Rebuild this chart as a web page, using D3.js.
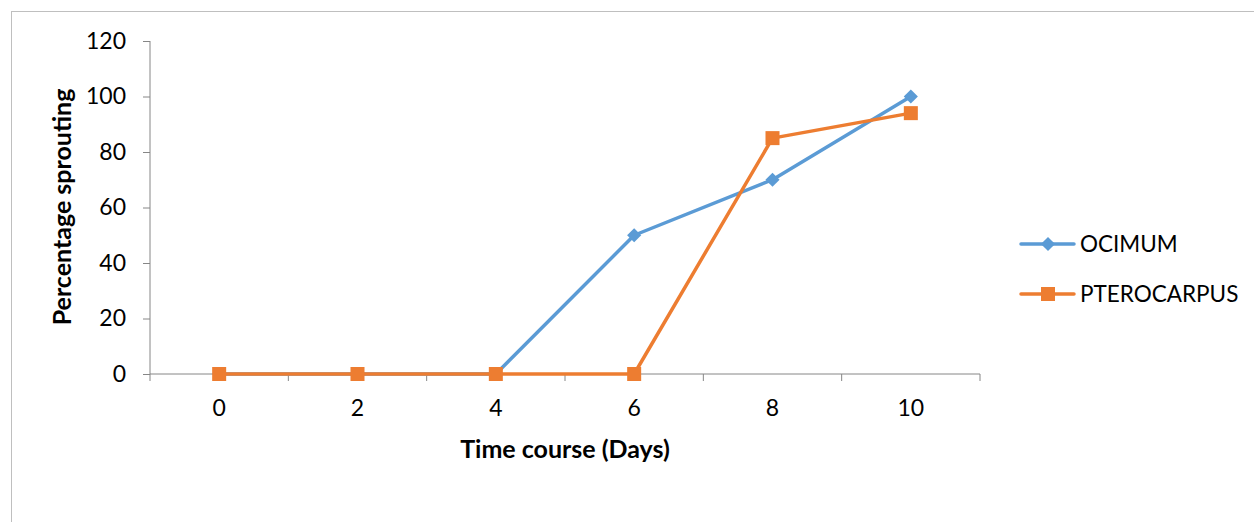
<!DOCTYPE html>
<html><head><meta charset="utf-8">
<script src="https://cdn.jsdelivr.net/npm/d3@7"></script>
<style>body{margin:0;background:#fff}svg{display:block}text{font-family:Lato,"Open Sans",sans-serif}</style>
</head><body><svg id="c" width="1254" height="522"></svg>
<script>
const categories = ["0","2","4","6","8","10"];
const ocimum = [0,0,0,50,70,100];
const pterocarpus = [0,0,0,0,85,94];
const yTicks = [0,20,40,60,80,100,120];
const seriesNames = ["OCIMUM","PTEROCARPUS"];
const colors = ["#5B9BD5","#ED7D31"];

const svg = d3.select("#c");
svg.append("rect").attr("x",11.5).attr("y",11.5).attr("width",1260).attr("height",530)
  .attr("fill","none").attr("stroke","#bfbfbf").attr("stroke-width",1);

const L=150,R=980,T=41,B=374;
const x = d3.scaleBand().domain(categories).range([L,R]);
const y = d3.scaleLinear().domain([0,120]).range([B,T]);

const axisColor="#868686";
const gy = svg.append("g").attr("transform",`translate(${L},0)`)
  .call(d3.axisLeft(y).tickValues(yTicks).tickSize(7).tickPadding(17));
const gx = svg.append("g").attr("transform",`translate(0,${B})`)
  .call(d3.axisBottom(x).tickSize(0).tickPadding(26));
[gy,gx].forEach(g=>{g.selectAll("path,line").attr("stroke",axisColor).attr("stroke-width",1);
  g.selectAll("text").attr("font-size",23).attr("fill","#000").style("font-family","Lato");});
gy.select(".domain").attr("d",`M0,${T}V${B}`);
gx.select(".domain").attr("d",`M${L},0H${R}`);
const bounds = categories.map(c=>x(c)).concat([R]);
gx.selectAll(".bt").data(bounds).enter().append("line").attr("class","bt")
  .attr("x1",d=>d).attr("x2",d=>d).attr("y1",0).attr("y2",7).attr("stroke",axisColor);

const cx = c=>x(c)+x.bandwidth()/2;
const line = d3.line().x((d,i)=>cx(categories[i])).y(d=>y(d));
function drawSeries(vals,color,kind){
  svg.append("path").datum(vals).attr("d",line).attr("fill","none").attr("stroke",color).attr("stroke-width",3.5).attr("stroke-linejoin","round");
  const g=svg.append("g");
  vals.forEach((v,i)=>{
    if(kind==="diamond"){
      g.append("path").attr("d",d3.symbol().type(d3.symbolSquare).size(100)()).attr("transform",`translate(${cx(categories[i])},${y(v)}) rotate(45)`).attr("fill",color);
    } else {
      g.append("rect").attr("x",cx(categories[i])-7).attr("y",y(v)-7).attr("width",14).attr("height",14).attr("fill",color);
    }
  });
}
drawSeries(ocimum,colors[0],"diamond");
drawSeries(pterocarpus,colors[1],"square");

svg.append("text").attr("x",565).attr("y",458).attr("text-anchor","middle").attr("font-size",25).attr("font-weight","bold").text("Time course (Days)");
svg.append("text").attr("transform","translate(71,207) rotate(-90)").attr("text-anchor","middle").attr("font-size",25).attr("font-weight","bold").text("Percentage sprouting");

const lg = svg.append("g");
seriesNames.forEach((n,i)=>{
  const yy = 244 + i*50;
  lg.append("line").attr("x1",1021).attr("x2",1074).attr("y1",yy).attr("y2",yy).attr("stroke",colors[i]).attr("stroke-width",3.5).attr("stroke-linecap","round");
  if(i===0) lg.append("path").attr("d",d3.symbol().type(d3.symbolSquare).size(100)()).attr("transform",`translate(1048,${yy}) rotate(45)`).attr("fill",colors[i]);
  else lg.append("rect").attr("x",1041).attr("y",yy-7).attr("width",14).attr("height",14).attr("fill",colors[i]);
  lg.append("text").attr("x",1080).attr("y",yy+8).attr("font-size",22.5).text(n);
});
</script></body></html>
